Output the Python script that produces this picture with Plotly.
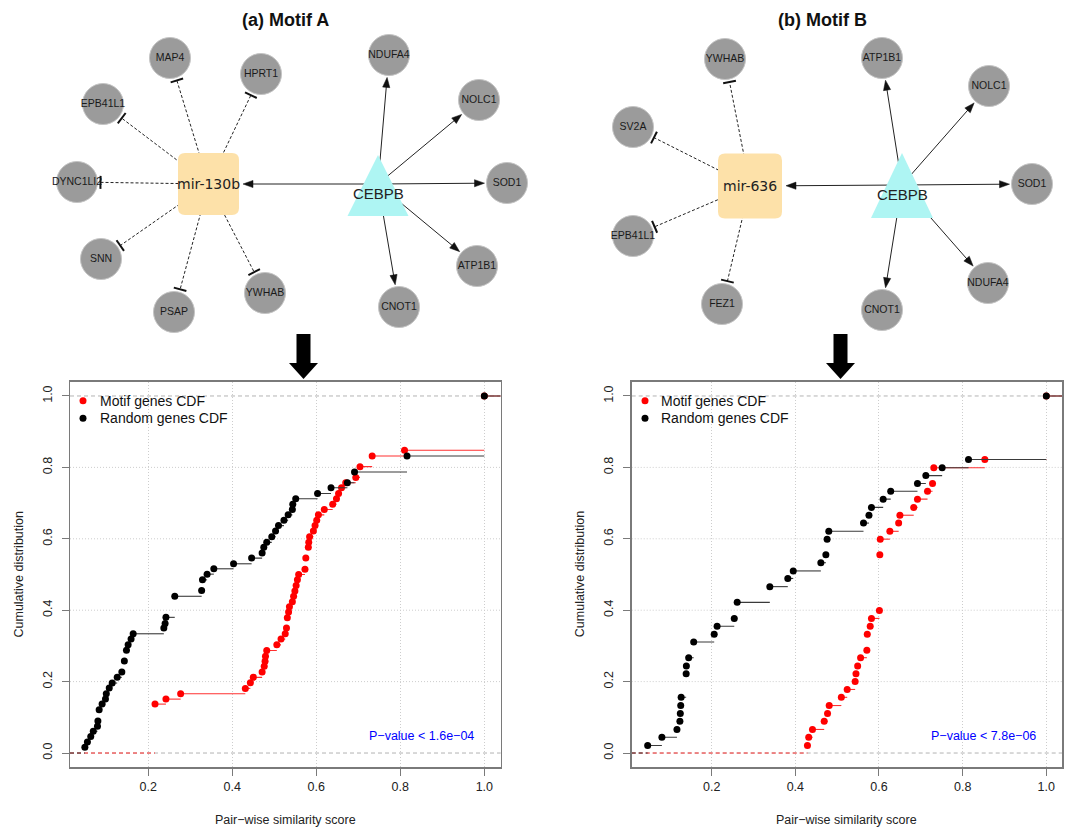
import math
import plotly.graph_objects as go

W, H = 1065, 828
FONT = "Liberation Sans, Arial, Helvetica, sans-serif"

# ---------------- data ----------------
panel_titles = ["(a) Motif A", "(b) Motif B"]
series_names = ["Motif genes CDF", "Random genes CDF"]
p_values = ["P\u2212value < 1.6e\u221204", "P\u2212value < 7.8e\u221206"]
x_title = "Pair\u2212wise similarity score"
y_title = "Cumulative distribution"
x_ticks = [0.2, 0.4, 0.6, 0.8, 1.0]
x_ticklabels = ["0.2", "0.4", "0.6", "0.8", "1.0"]
y_ticks = [0.0, 0.2, 0.4, 0.6, 0.8, 1.0]
y_ticklabels = ["0.0", "0.2", "0.4", "0.6", "0.8", "1.0"]
y_grid = [0.2, 0.4, 0.6, 0.8]
ref_lines = [0.0, 1.0]

a_motif_x = [0.216, 0.242, 0.277, 0.431, 0.443, 0.450, 0.471, 0.476, 0.478, 0.479,
             0.482, 0.506, 0.516, 0.526, 0.529, 0.531, 0.534, 0.536, 0.543, 0.546,
             0.549, 0.552, 0.555, 0.558, 0.573, 0.575, 0.581, 0.582, 0.584, 0.593,
             0.597, 0.601, 0.605, 0.619, 0.639, 0.648, 0.653, 0.660, 0.670, 0.694,
             0.704, 0.733, 0.810, 1.000]
a_motif_y = [0.137, 0.151, 0.166, 0.181, 0.197, 0.212, 0.227, 0.243, 0.257, 0.271,
             0.287, 0.303, 0.319, 0.334, 0.350, 0.379, 0.395, 0.410, 0.424, 0.439,
             0.454, 0.469, 0.485, 0.500, 0.515, 0.546, 0.576, 0.590, 0.606, 0.622,
             0.637, 0.652, 0.667, 0.682, 0.697, 0.712, 0.727, 0.743, 0.757, 0.772,
             0.802, 0.832, 0.848, 1.000]
a_random_x = [0.049, 0.055, 0.063, 0.069, 0.079, 0.080, 0.083, 0.090, 0.098, 0.100,
              0.107, 0.114, 0.126, 0.137, 0.143, 0.148, 0.152, 0.159, 0.164, 0.237,
              0.240, 0.242, 0.263, 0.327, 0.329, 0.340, 0.356, 0.403, 0.446, 0.471,
              0.475, 0.482, 0.494, 0.503, 0.510, 0.523, 0.533, 0.543, 0.544, 0.551,
              0.603, 0.635, 0.674, 0.691, 0.816, 1.000]
a_random_y = [0.016, 0.031, 0.046, 0.061, 0.075, 0.090, 0.121, 0.137, 0.151, 0.166,
              0.182, 0.196, 0.212, 0.227, 0.258, 0.288, 0.303, 0.319, 0.334, 0.350,
              0.363, 0.380, 0.439, 0.455, 0.485, 0.501, 0.516, 0.530, 0.546, 0.560,
              0.576, 0.590, 0.606, 0.622, 0.637, 0.652, 0.667, 0.682, 0.697, 0.712,
              0.727, 0.743, 0.757, 0.787, 0.832, 1.000]

b_motif_x = [0.429, 0.432, 0.441, 0.469, 0.477, 0.481, 0.510, 0.524, 0.543, 0.545,
             0.549, 0.556, 0.571, 0.572, 0.579, 0.582, 0.601, 0.602, 0.603, 0.626,
             0.647, 0.650, 0.683, 0.692, 0.716, 0.728, 0.731, 0.853, 1.000]
b_motif_y = [0.021, 0.044, 0.066, 0.089, 0.111, 0.133, 0.156, 0.178, 0.200, 0.222,
             0.244, 0.267, 0.288, 0.333, 0.355, 0.377, 0.399, 0.555, 0.599, 0.621,
             0.644, 0.666, 0.688, 0.711, 0.733, 0.755, 0.799, 0.822, 1.000]
b_random_x = [0.047, 0.081, 0.117, 0.124, 0.125, 0.126, 0.127, 0.139, 0.1395, 0.145,
              0.157, 0.206, 0.213, 0.254, 0.261, 0.339, 0.382, 0.395, 0.461, 0.473,
              0.476, 0.480, 0.563, 0.576, 0.582, 0.610, 0.628, 0.692, 0.712, 0.751,
              0.814, 1.000]
b_random_y = [0.021, 0.044, 0.066, 0.089, 0.111, 0.133, 0.156, 0.222, 0.244, 0.267,
              0.311, 0.333, 0.355, 0.377, 0.422, 0.466, 0.489, 0.510, 0.533, 0.555,
              0.599, 0.621, 0.644, 0.666, 0.688, 0.711, 0.733, 0.755, 0.777, 0.799,
              0.822, 1.000]

# network contents
a_mir_name = "mir-130b"
a_mir_targets = ["MAP4", "HPRT1", "EPB41L1", "DYNC1LI2", "SNN", "PSAP", "YWHAB"]
a_tf_targets = ["NDUFA4", "NOLC1", "SOD1", "ATP1B1", "CNOT1"]
b_mir_name = "mir-636"
b_mir_targets = ["YWHAB", "SV2A", "EPB41L1", "FEZ1"]
b_tf_targets = ["ATP1B1", "NOLC1", "SOD1", "NDUFA4", "CNOT1"]
tf_name = "CEBPB"

# ---------------- layout geometry (pixels) ----------------
NODE_POS = {
    "a": {
        "MAP4": (170, 58), "HPRT1": (261, 74), "EPB41L1": (103, 104), "DYNC1LI2": (77, 182),
        "SNN": (101, 259), "PSAP": (174, 312), "YWHAB": (265, 293),
        "NDUFA4": (389, 55), "NOLC1": (479, 100), "SOD1": (507, 183), "ATP1B1": (477, 266),
        "CNOT1": (399, 307),
    },
    "b": {
        "YWHAB": (725, 59), "SV2A": (633, 127), "EPB41L1": (633, 236), "FEZ1": (722, 304),
        "ATP1B1": (882, 58), "NOLC1": (989, 86), "SOD1": (1032, 184), "NDUFA4": (988, 283),
        "CNOT1": (882, 310),
    },
}
MIR_BOX = {"a": (208.5, 184, 61, 62), "b": (750, 186, 64, 65)}      # cx, cy, w, h
TF_TRI = {"a": (378, 184, 155, 216, 30.5), "b": (902, 185, 153, 218, 31)}  # cx, cy, apex y, base y, half width
TF_LABEL = {"a": (378, 193), "b": (902, 194)}
TITLE_POS = {"a": (285, 20), "b": (822, 20)}
BIG_ARROW_X = {"a": 303.5, "b": 840.5}
NODE_R = 20.5
LEGEND_POS = {"a": (83, 97.7, 400.7), "b": (645, 659, 400.7)}   # dot x, text x, first row y
LEGEND_STEP = 17.5

# CDF panels (pixel frames)
FRAME = {"a": (70, 500.7), "b": (631.7, 1062.2)}
FRAME_Y = (381.7, 767.3)
XRANGE = {"a": (0.0136, 1.039), "b": (0.0088, 1.038)}
YRANGE = (-0.04, 1.04)
GRID_DASH = "1px,2px"
GRID_COLOR = "#cdcdcd"

fig = go.Figure()
shapes = []
annotations = []


def steps(xs, ys, xhi):
    sx, sy = [], []
    for i in range(len(xs) - 1):
        sx += [xs[i], xs[i + 1], None]
        sy += [ys[i], ys[i], None]
    sx += [xs[-1], xhi, None]
    sy += [ys[-1], ys[-1], None]
    return sx, sy


panels = [
    ("a", "x", "y", [(a_motif_x, a_motif_y), (a_random_x, a_random_y)], p_values[0]),
    ("b", "x2", "y2", [(b_motif_x, b_motif_y), (b_random_x, b_random_y)], p_values[1]),
]
mark_colors = ["#ff0000", "#000000"]
line_colors = ["#ff3030", "#3a3a3a"]

for key, xa, ya, series, ptxt in panels:
    xlo, xhi = XRANGE[key]
    # dotted horizontal grid + dashed reference lines at 0 and 1
    for yv in y_grid:
        shapes.append(dict(type="line", xref=f"{xa} domain", yref=ya, x0=0, x1=1, y0=yv, y1=yv,
                           line=dict(color=GRID_COLOR, width=1, dash=GRID_DASH), layer="below"))
    for yv in ref_lines:
        shapes.append(dict(type="line", xref=f"{xa} domain", yref=ya, x0=0, x1=1, y0=yv, y1=yv,
                           line=dict(color="#b3b3b3", width=1, dash="4px,3px"), layer="below"))
    for (xs, ys), name, mc, lc in zip(series, series_names, mark_colors, line_colors):
        fig.add_trace(go.Scatter(x=[xlo, xs[0]], y=[0, 0], mode="lines", xaxis=xa, yaxis=ya,
                                 line=dict(color=lc, width=1, dash="4px,3px"),
                                 showlegend=False, hoverinfo="skip"))
        sx, sy = steps(xs, ys, xhi)
        fig.add_trace(go.Scatter(x=sx, y=sy, mode="lines", xaxis=xa, yaxis=ya,
                                 line=dict(color=lc, width=1.1), showlegend=False,
                                 hoverinfo="skip", connectgaps=False))
        fig.add_trace(go.Scatter(x=xs, y=ys, mode="markers", xaxis=xa, yaxis=ya, name=name,
                                 marker=dict(color=mc, size=7), showlegend=False))
    annotations.append(dict(x=0.851, y=0.048, xref=xa, yref=ya, text=ptxt, showarrow=False,
                            xanchor="center", yanchor="middle",
                            font=dict(family=FONT, size=12.5, color="#0000ff")))
    fl, fr = FRAME[key]
    annotations.append(dict(x=(fl + fr) / 2 / W, y=1 - 820 / H, xref="paper", yref="paper",
                            text=x_title, showarrow=False, xanchor="center", yanchor="middle",
                            font=dict(family=FONT, size=12.5, color="#222")))
    annotations.append(dict(x=(fl - 52) / W, y=1 - 574.5 / H, xref="paper", yref="paper",
                            text=y_title, showarrow=False, textangle=-90,
                            xanchor="center", yanchor="middle",
                            font=dict(family=FONT, size=12.5, color="#222")))
    # legend (drawn inside the panel, R style)
    dx, tx, ly = LEGEND_POS[key]
    for i, (name, mc) in enumerate(zip(series_names, mark_colors)):
        yy = ly + i * LEGEND_STEP
        fig.add_trace(go.Scatter(x=[dx], y=[yy], xaxis="x3", yaxis="y3", mode="markers",
                                 marker=dict(color=mc, size=7), showlegend=False, hoverinfo="skip"))
        annotations.append(dict(x=tx, y=yy, xref="x3", yref="y3", text=name, showarrow=False,
                                xanchor="left", yanchor="middle",
                                font=dict(family=FONT, size=14, color="#111")))

axis_common = dict(showline=True, linecolor="#7a7a7a", linewidth=1.5, mirror=True,
                   ticks="outside", ticklen=7, tickcolor="#7a7a7a", tickwidth=1,
                   zeroline=False, tickfont=dict(family=FONT, size=12.5, color="#222"))
ydom = [1 - FRAME_Y[1] / H, 1 - FRAME_Y[0] / H]
xgrid = dict(showgrid=True, gridcolor=GRID_COLOR, griddash=GRID_DASH, gridwidth=1)

fig.update_layout(
    xaxis=dict(domain=[FRAME["a"][0] / W, FRAME["a"][1] / W], range=list(XRANGE["a"]), anchor="y",
               tickvals=x_ticks, ticktext=x_ticklabels, **xgrid, **axis_common),
    yaxis=dict(domain=ydom, range=list(YRANGE), anchor="x", tickvals=y_ticks, showgrid=False,
               ticktext=y_ticklabels, tickangle=-90, ticklabelstandoff=5, **axis_common),
    xaxis2=dict(domain=[FRAME["b"][0] / W, FRAME["b"][1] / W], range=list(XRANGE["b"]), anchor="y2",
                tickvals=x_ticks, ticktext=x_ticklabels, **xgrid, **axis_common),
    yaxis2=dict(domain=ydom, range=list(YRANGE), anchor="x2", tickvals=y_ticks, showgrid=False,
                ticktext=y_ticklabels, tickangle=-90, ticklabelstandoff=5, **axis_common),
    xaxis3=dict(domain=[0, 1], range=[0, W], anchor="y3", visible=False, fixedrange=True),
    yaxis3=dict(domain=[0, 1], range=[H, 0], anchor="x3", visible=False, fixedrange=True),
)

# ---------------- networks ----------------
def unit(x0, y0, x1, y1):
    dx, dy = x1 - x0, y1 - y0
    d = math.hypot(dx, dy)
    return dx / d, dy / d


def tri_path(tip, u, length=10, half=3.6):
    bx, by = tip[0] - u[0] * length, tip[1] - u[1] * length
    px, py = -u[1], u[0]
    return (f"M {tip[0]:.2f},{tip[1]:.2f} L {bx + px * half:.2f},{by + py * half:.2f} "
            f"L {bx - px * half:.2f},{by - py * half:.2f} Z")


def S(**kw):
    d = dict(xref="x3", yref="y3", layer="above")
    d.update(kw)
    return d


for key, mir_name, mir_t, tf_t in [("a", a_mir_name, a_mir_targets, a_tf_targets),
                                    ("b", b_mir_name, b_mir_targets, b_tf_targets)]:
    pos = NODE_POS[key]
    mcx, mcy, mw, mh = MIR_BOX[key]
    tcx, tcy, tapex, tbase, thw = TF_TRI[key]
    # miRNA repression edges (dashed with T-bar)
    for g in mir_t:
        gx, gy = pos[g]
        ux, uy = unit(mcx, mcy, gx, gy)
        ex, ey = gx - ux * (NODE_R + 3), gy - uy * (NODE_R + 3)
        shapes.append(S(type="line", x0=mcx, y0=mcy, x1=ex, y1=ey,
                        line=dict(color="#222", width=1, dash="3px,2px")))
        px, py = -uy, ux
        shapes.append(S(type="line", x0=ex + px * 6.5, y0=ey + py * 6.5, x1=ex - px * 6.5,
                        y1=ey - py * 6.5, line=dict(color="#111", width=2)))
    # TF activation edges (solid arrows)
    for g in tf_t:
        gx, gy = pos[g]
        ux, uy = unit(tcx, tcy, gx, gy)
        tip = (gx - ux * (NODE_R + 2), gy - uy * (NODE_R + 2))
        shapes.append(S(type="line", x0=tcx, y0=tcy, x1=tip[0] - ux * 8, y1=tip[1] - uy * 8,
                        line=dict(color="#222", width=1)))
        shapes.append(S(type="path", path=tri_path(tip, (ux, uy)), fillcolor="#111",
                        line=dict(color="#111", width=0.5)))
    # TF -> miRNA
    ux, uy = unit(tcx, tcy, mcx, mcy)
    tipx = mcx + mw / 2 + 4
    tip = (tipx, tcy + (tipx - tcx) * uy / ux)
    shapes.append(S(type="line", x0=tcx, y0=tcy, x1=tip[0] - ux * 8, y1=tip[1] - uy * 8,
                    line=dict(color="#222", width=1)))
    shapes.append(S(type="path", path=tri_path(tip, (ux, uy)), fillcolor="#111",
                    line=dict(color="#111", width=0.5)))
    # miRNA rounded box
    x0, x1, y0, y1, r = mcx - mw / 2, mcx + mw / 2, mcy - mh / 2, mcy + mh / 2, 7
    path = (f"M {x0 + r},{y0} L {x1 - r},{y0} Q {x1},{y0} {x1},{y0 + r} L {x1},{y1 - r} "
            f"Q {x1},{y1} {x1 - r},{y1} L {x0 + r},{y1} Q {x0},{y1} {x0},{y1 - r} "
            f"L {x0},{y0 + r} Q {x0},{y0} {x0 + r},{y0} Z")
    shapes.append(S(type="path", path=path, fillcolor="#fde1a9", line=dict(width=0)))
    # TF triangle
    shapes.append(S(type="path", path=f"M {tcx},{tapex} L {tcx + thw},{tbase} L {tcx - thw},{tbase} Z",
                    fillcolor="#aef5f3", line=dict(width=0)))
    annotations.append(dict(x=mcx, y=mcy, xref="x3", yref="y3", text=mir_name, showarrow=False,
                            xanchor="center", yanchor="middle",
                            font=dict(family="DejaVu Sans, sans-serif", size=14, color="#222")))
    lx, ly = TF_LABEL[key]
    annotations.append(dict(x=lx, y=ly, xref="x3", yref="y3", text=tf_name, showarrow=False,
                            xanchor="center", yanchor="middle",
                            font=dict(family=FONT, size=15, color="#222")))
    # gene nodes
    genes = list(mir_t) + list(tf_t)
    fig.add_trace(go.Scatter(x=[pos[g][0] for g in genes], y=[pos[g][1] for g in genes],
                             xaxis="x3", yaxis="y3", mode="markers+text", text=genes,
                             textposition="middle center",
                             textfont=dict(family=FONT, size=10.5, color="#1a1a1a"),
                             marker=dict(size=2 * NODE_R, color="#9b9b9b",
                                         line=dict(color="#c4c4c4", width=1)),
                             showlegend=False, hoverinfo="skip"))
    # title
    tx, ty = TITLE_POS[key]
    annotations.append(dict(x=tx, y=ty, xref="x3", yref="y3",
                            text=f"<b>{panel_titles[0 if key == 'a' else 1]}</b>", showarrow=False,
                            xanchor="center", yanchor="middle",
                            font=dict(family=FONT, size=18, color="#111")))
    # big down arrow
    ax = BIG_ARROW_X[key]
    shapes.append(S(type="path",
                    path=(f"M {ax - 7},334 L {ax + 7},334 L {ax + 7},363 L {ax + 14.5},363 "
                          f"L {ax},379 L {ax - 14.5},363 L {ax - 7},363 Z"),
                    fillcolor="#000", line=dict(width=0)))

fig.update_layout(
    width=W, height=H, margin=dict(l=0, r=0, t=0, b=0),
    paper_bgcolor="white", plot_bgcolor="rgba(0,0,0,0)",
    font=dict(family=FONT), showlegend=False,
    shapes=shapes, annotations=annotations,
)

fig.write_html("out.html", config={"displayModeBar": False, "staticPlot": True},
               post_script="document.body.style.margin='0';document.body.style.padding='0';")
